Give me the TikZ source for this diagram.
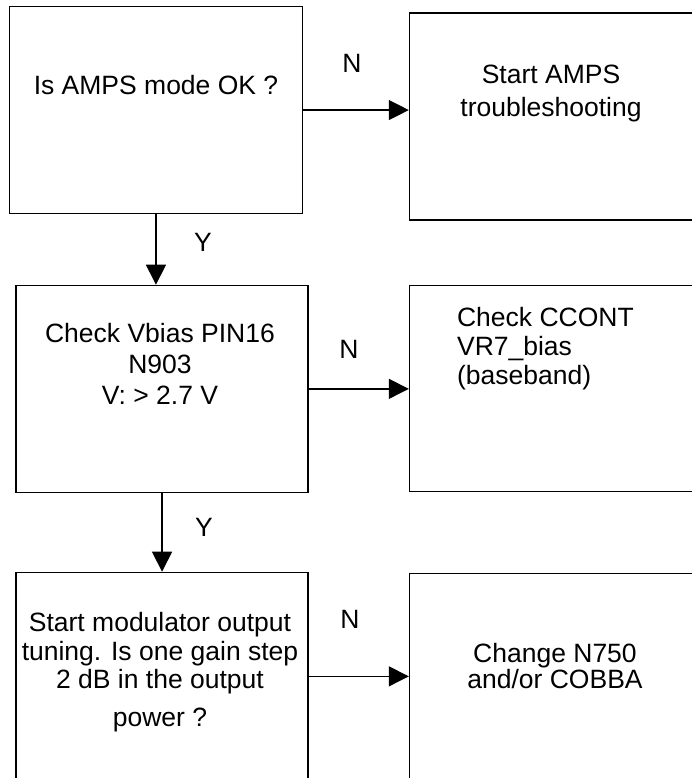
\documentclass[tikz,border=0pt]{standalone}
\usepackage{fontspec}
\setmainfont{Liberation Sans}
\usetikzlibrary{arrows.meta}

\begin{document}
\begin{tikzpicture}[x=0.5pt,y=-0.5pt,
    blk/.style={draw,line width=0.65pt,inner sep=0pt,anchor=north west,minimum width=146.5pt,minimum height=103.7pt},
    txt/.style={font=\fontsize{13.25pt}{#1}\selectfont,align=center,inner sep=0pt,anchor=north},
    lbl/.style={font=\fontsize{13.25pt}{15pt}\selectfont,inner sep=0pt,anchor=base},
    arr/.style={-{Triangle[length=10pt,width=10pt]},line width=0.65pt}]
    \useasboundingbox (0,0) rectangle (692,778);
    \clip (0,0) rectangle (692,778);

    \node[blk] (amps) at (8.8,5.7) {};
    \node[blk,minimum height=103.5pt] (ampsts) at (408.8,12.3) {};
    \node[blk,minimum width=146pt,minimum height=103.5pt] (chk) at (15.4,284.7) {};
    \node[blk,minimum height=103.2pt] (ccont) at (408.8,284.7) {};
    \node[blk,minimum width=146pt,minimum height=104pt] (mod) at (15.4,571.7) {};
    \node[blk,minimum height=104pt] (chg) at (408.8,572.7) {};

    \node[txt=16pt,anchor=base] (ampstx) at (156,94) {Is AMPS mode OK ?};
    \node[txt=16.35pt] (ampststx) at (551,65) {Start AMPS\\troubleshooting};
    \node[txt=15.5pt] (chktx) at (160,323.3) {Check Vbias PIN16\\N903\\V: > 2.7 V};
    \node[txt=14.5pt,anchor=north west,align=left] (ccontx) at (456.7,306.7) {Check CCONT\\VR7\_bias\\(baseband)};
    \node[txt=14.4pt] (modtx) at (160,611.7) {Start modulator output\\tuning. Is one gain step\\2 dB in the output\\[4.5pt]power ?};
    \node[txt=13pt] (chgtx) at (555,642.7) {Change N750\\and/or COBBA};

    \draw[arr] (amps.east) -- (amps.east -| ampsts.west);
    \draw[arr] (chk.east) -- (chk.east -| ccont.west);
    \draw[arr] (mod.east) -- (mod.east -| chg.west);
    \draw[arr] (amps.south) -- (amps.south |- chk.north);
    \draw[arr] (chk.south) -- (mod.north);

    \node[lbl] (n1) at (352,72.7) {N};
    \node[lbl] (n2) at (349,358.5) {N};
    \node[lbl] (n3) at (350,628.3) {N};
    \node[lbl] (y1) at (203,251.9) {Y};
    \node[lbl] (y2) at (204,536) {Y};
\end{tikzpicture}
\end{document}
